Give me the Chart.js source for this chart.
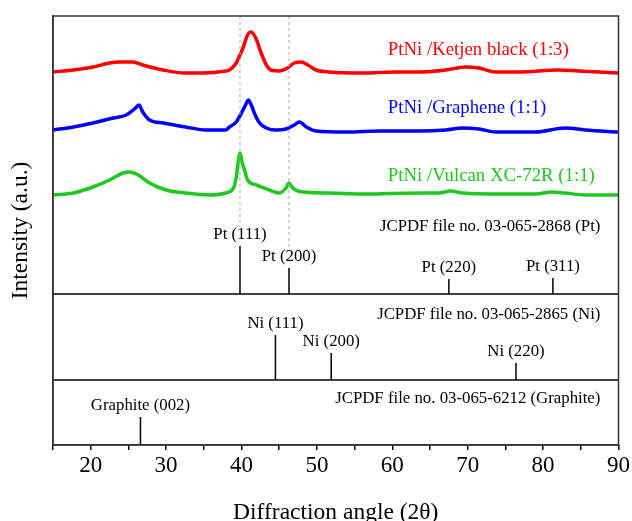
<!DOCTYPE html>
<html>
<head>
<meta charset="utf-8">
<script src="https://cdn.jsdelivr.net/npm/chart.js@4.4.0/dist/chart.umd.min.js"></script>
<style>
  body { margin: 0; background: #fff; }
</style>
</head>
<body>
<canvas id="xrdChart" width="632" height="521"></canvas>
<script>
// XRD patterns of PtNi catalysts (curves are stacked with offsets, a.u.)
const ketjenAngle = [15, 17.7, 20.3, 22.5, 23.8, 25.6, 26.9, 29.6, 32.6, 34.9, 37.9, 38.4, 39.3, 39.9, 40.2, 40.8, 41.3, 42.0, 42.6, 43.3, 43.9, 45.0, 46.1, 47.0, 47.9, 48.8, 49.9, 51.7, 56.1, 60.5, 63.6, 67.1, 69.7, 71.5, 73.7, 76.8, 82.1, 84.7, 87.4, 90];
const ketjenInt = [373, 375, 378, 382, 383, 383, 380, 375, 372, 372, 374, 375, 382, 392, 397, 410, 413, 405, 392, 380, 375, 374, 377, 382, 383, 380, 375, 373, 372, 373, 373, 375, 378, 377, 373, 373, 375, 374, 373, 372];

const grapheneAngle = [15, 17.7, 20.3, 23.0, 24.7, 25.8, 26.4, 26.9, 27.8, 29.6, 32.6, 35.3, 37.9, 38.4, 39.3, 40.2, 40.6, 40.9, 41.3, 41.7, 42.4, 43.3, 44.6, 45.9, 47.0, 47.7, 48.6, 49.9, 53.9, 58.3, 63.6, 67.1, 69.3, 71.5, 73.7, 79.0, 82.9, 85.6, 90];
const grapheneInt = [315, 318, 322, 327, 330, 336, 340, 333, 325, 322, 318, 315, 315, 318, 323, 335, 341, 345, 340, 332, 322, 317, 315, 316, 320, 323, 318, 314, 313, 314, 314, 315, 317, 316, 313, 313, 317, 315, 313];

const vulcanAngle = [15, 17.7, 20.3, 22.5, 24.3, 25.2, 26.3, 27.8, 30.0, 32.6, 35.7, 37.9, 39.0, 39.3, 39.6, 39.8, 40.1, 40.4, 40.8, 42.0, 43.7, 45.0, 45.9, 46.3, 46.8, 48.1, 51.7, 56.1, 63.6, 66.2, 67.7, 69.3, 74.6, 79.0, 81.2, 82.9, 85.6, 90];
const vulcanInt = [250, 252, 258, 265, 272, 273, 270, 262, 255, 252, 250, 252, 258, 268, 285, 292, 282, 275, 265, 260, 255, 252, 257, 262, 257, 253, 252, 251, 252, 252, 254, 252, 251, 251, 253, 252, 250, 250];

const sampleNames = ['PtNi /Ketjen black (1:3)', 'PtNi /Graphene (1:1)', 'PtNi /Vulcan XC-72R (1:1)'];

// JCPDF reference lines
const ptAngles = [39.8, 46.3, 67.5, 81.3];
const ptHeights = [48, 26, 15, 16];
const ptLabels = ['Pt (111)', 'Pt (200)', 'Pt (220)', 'Pt (311)'];

const niAngles = [44.5, 51.9, 76.4];
const niHeights = [45, 27, 17];
const niLabels = ['Ni (111)', 'Ni (200)', 'Ni (220)'];

const grAngles = [26.6];
const grHeights = [28];
const grLabels = ['Graphite (002)'];

const cardNames = ['JCPDF file no. 03-065-2868 (Pt)', 'JCPDF file no. 03-065-2865 (Ni)', 'JCPDF file no. 03-065-6212 (Graphite)'];

const xTicks = [20, 30, 40, 50, 60, 70, 80, 90];

// layout of the stacked panels (y units)
const ptBase = 151, niBase = 65, grBase = 0;
const yTop = 429;

const serif = '"Liberation Serif", "Times New Roman", serif';

function toPoints(xs, ys) {
  return xs.map((x, i) => ({ x: x, y: ys[i] }));
}

function sticks(xs, hs, base) {
  const pts = [];
  xs.forEach((x, i) => {
    pts.push({ x: x, y: base }, { x: x, y: base + hs[i] }, { x: x, y: null });
  });
  return pts;
}

function curve(data, color) {
  return {
    data: data, borderColor: color, borderWidth: 3.5, pointRadius: 0,
    cubicInterpolationMode: 'monotone', fill: false
  };
}

function stickSet(data) {
  return { data: data, borderColor: '#000', borderWidth: 1.5, pointRadius: 0, spanGaps: false };
}

function guide(x, yFrom) {
  return {
    data: [{ x: x, y: yTop }, { x: x, y: yFrom }],
    borderColor: '#a8a8a8', borderWidth: 1, borderDash: [3, 3], pointRadius: 0
  };
}

const annotations = {
  id: 'annotations',
  afterDatasetsDraw(chart) {
    const { ctx, chartArea: a, scales: { x, y } } = chart;
    ctx.save();
    // panel separators and frame
    ctx.strokeStyle = '#000';
    ctx.lineWidth = 1.5;
    [ptBase, niBase].forEach(b => {
      const py = y.getPixelForValue(b);
      ctx.beginPath(); ctx.moveTo(a.left, py); ctx.lineTo(a.right, py); ctx.stroke();
    });
    ctx.strokeStyle = '#333';
    ctx.strokeRect(a.left, a.top, a.right - a.left, a.bottom - a.top);

    // peak labels
    ctx.fillStyle = '#000';
    ctx.font = '16.8px ' + serif;
    ctx.textAlign = 'center';
    ctx.textBaseline = 'middle';
    const groups = [[ptAngles, ptHeights, ptLabels, ptBase], [niAngles, niHeights, niLabels, niBase], [grAngles, grHeights, grLabels, grBase]];
    groups.forEach(([xs, hs, ls, base]) => {
      xs.forEach((v, i) => {
        ctx.fillText(ls[i], x.getPixelForValue(v), y.getPixelForValue(base + hs[i]) - 11);
      });
    });

    // card names
    ctx.textAlign = 'right';
    [218, 130, 46].forEach((v, i) => {
      ctx.fillText(cardNames[i], x.getPixelForValue(87.6), y.getPixelForValue(v));
    });

    // sample names
    ctx.font = '18.8px ' + serif;
    ctx.textAlign = 'left';
    const colors = ['#ff0000', '#0000ff', '#1ec81e'];
    [395, 337, 269].forEach((v, i) => {
      ctx.fillStyle = colors[i];
      ctx.fillText(sampleNames[i], x.getPixelForValue(59.4), y.getPixelForValue(v));
    });
    ctx.restore();
  }
};

const ctx = document.getElementById('xrdChart').getContext('2d');
const xrdChart = new Chart(ctx, {
  type: 'line',
  data: {
    datasets: [
      guide(39.8, 218),
      guide(46.3, 195),
      curve(toPoints(ketjenAngle, ketjenInt), '#ff0000'),
      curve(toPoints(grapheneAngle, grapheneInt), '#0000ff'),
      curve(toPoints(vulcanAngle, vulcanInt), '#1ec81e'),
      stickSet(sticks(ptAngles, ptHeights, ptBase)),
      stickSet(sticks(niAngles, niHeights, niBase)),
      stickSet(sticks(grAngles, grHeights, grBase))
    ]
  },
  options: {
    responsive: false,
    animation: false,
    devicePixelRatio: 1,
    layout: { padding: { left: 0, right: 12, top: 16, bottom: 0 } },
    plugins: { legend: { display: false }, tooltip: { enabled: false } },
    scales: {
      x: {
        type: 'linear',
        min: 15, max: 90,
        afterFit: s => { s.height = 76; },
        ticks: {
          stepSize: 5,
          padding: 2,
          color: '#000',
          font: { family: serif, size: 23 },
          maxRotation: 0,
          callback: v => (xTicks.includes(v) ? v : '')
        },
        grid: { drawOnChartArea: false, drawTicks: true, tickLength: 5, color: '#000', lineWidth: 1.5 },
        border: { display: true, color: '#333', width: 1.5 },
        title: {
          display: true,
          text: 'Diffraction angle (2θ)',
          color: '#000',
          font: { family: serif, size: 23.5 },
          padding: { top: 17, bottom: -6 }
        }
      },
      y: {
        min: 0, max: yTop,
        afterFit: s => { s.width = 53; },
        ticks: { display: false },
        grid: { display: false, drawTicks: false },
        border: { display: true, color: '#333', width: 1.5 },
        title: {
          display: true,
          text: 'Intensity (a.u.)',
          color: '#000',
          font: { family: serif, size: 23.5 },
          padding: { top: 7, bottom: 0 }
        }
      }
    }
  },
  plugins: [annotations]
});
</script>
</body>
</html>
